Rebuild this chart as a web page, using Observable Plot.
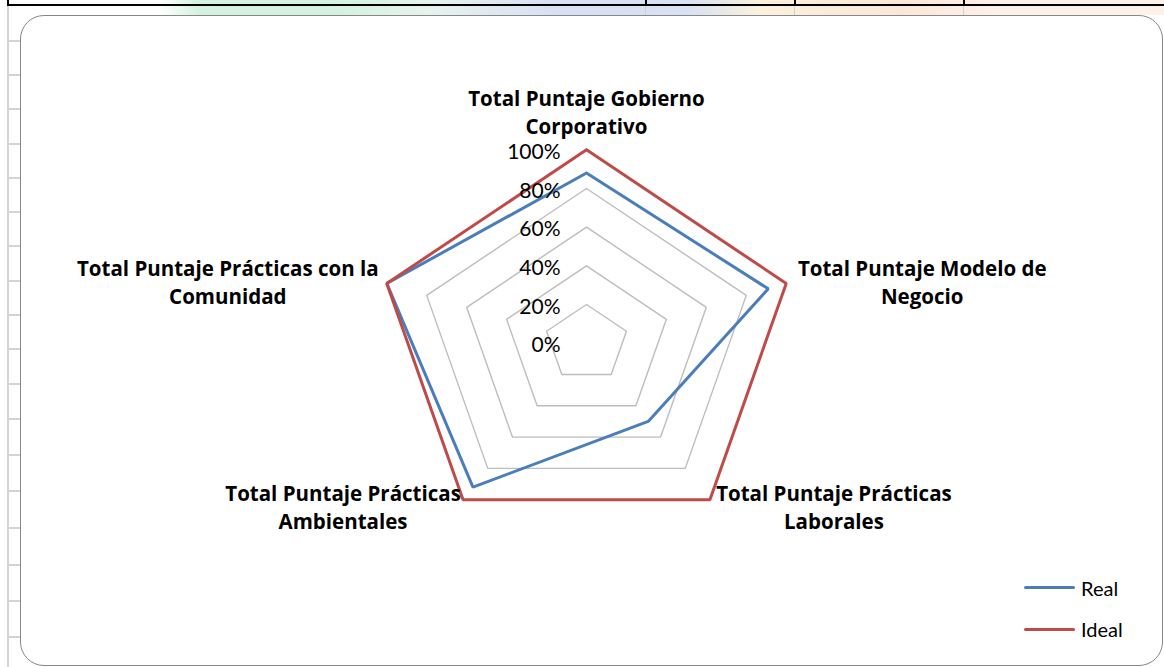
<!DOCTYPE html>
<html>
<head>
<meta charset="utf-8">
<script src="https://cdn.jsdelivr.net/npm/d3@7"></script>
<script src="https://cdn.jsdelivr.net/npm/@observablehq/plot@0.6"></script>
<style>
  html, body { margin: 0; padding: 0; background: #fff; }
  #stage { position: relative; width: 1164px; height: 667px; overflow: hidden; font-family: Lato, "Open Sans", sans-serif; }
  .abs { position: absolute; }
  #chart { position: absolute; left: 0; top: 0; }
  #chart svg { background: transparent !important; }
</style>
</head>
<body>
<div id="stage">
  <div class="abs" id="topstrip" style="left:0;top:0;width:1164px;height:15px;
    background: linear-gradient(90deg, #ffffff 0px, #ffffff 160px, #d3f2df 200px, #d3f2df 330px, #e6f3ee 430px, #d9dff4 560px, #d9e1f4 690px, #fbf1dc 760px, #fbe7d8 900px, #fdf1ea 1000px, #fdf1ea 1164px);"></div>
  <div class="abs" style="left:7px;top:4px;width:1157px;height:2px;background:#000;"></div>
  <div class="abs" style="left:7px;top:0;width:2px;height:6px;background:#000;"></div>
  <div class="abs" style="left:645px;top:0;width:2px;height:6px;background:#000;"></div>
  <div class="abs" style="left:794px;top:0;width:2px;height:6px;background:#000;"></div>
  <div class="abs" style="left:963px;top:0;width:2px;height:6px;background:#000;"></div>
  <div class="abs" style="left:645px;top:6px;width:1px;height:10px;background:#d0d0d0;"></div>
  <div class="abs" style="left:794px;top:6px;width:1px;height:10px;background:#d0d0d0;"></div>
  <div class="abs" style="left:963px;top:6px;width:1px;height:10px;background:#d0d0d0;"></div>
  <div class="abs" style="left:7px;top:6px;width:2px;height:661px;background:#d4d4d4;"></div>
  <div id="rowticks"></div>
  <div class="abs" style="left:20px;top:15px;width:1141px;height:649px;border:1.5px solid #878787;border-radius:24px;background:#fff;"></div>
  <div id="chart"></div>
  <div id="legend"></div>
</div>
<script>
// ---- data ----
const categories = [
  "Total Puntaje Gobierno\nCorporativo",
  "Total Puntaje Modelo de\nNegocio",
  "Total Puntaje Prácticas\nLaborales",
  "Total Puntaje Prácticas\nAmbientales",
  "Total Puntaje Prácticas con la\nComunidad"
];
const realValues  = [0.88, 0.91, 0.50, 0.92, 1.00];
const idealValues = [1.00, 1.00, 1.00, 1.00, 1.00];
const seriesNames = ["Real", "Ideal"];
const gridLevels  = [0.2, 0.4, 0.6, 0.8, 1.0];
const tickValues  = [0, 0.2, 0.4, 0.6, 0.8, 1.0];
const tickLabels  = ["0%", "20%", "40%", "60%", "80%", "100%"];

// ---- styles ----
const colors = {Real: "#4a7ebb", Ideal: "#be4b48"};
const labelDx = [0, 136, 124, -120, -159];
const labelDy = [-39, -2.5, 6.5, 6.5, -2.5];

// spreadsheet row ticks (decoration)
const rt = document.getElementById("rowticks");
[40, 74, 108, 143, 177, 211, 245, 280, 314, 348, 383, 418, 454, 490, 527, 564, 600, 636].forEach(y => {
  const d = document.createElement("div");
  d.className = "abs";
  d.style.cssText = `left:9px;top:${y}px;width:12px;height:1.5px;background:#d4d4d4;`;
  rt.appendChild(d);
});

const n = categories.length;
const angle = i => (i * 2 * Math.PI) / n;
const px = (r, i) => r * Math.sin(angle(i));
const py = (r, i) => r * Math.cos(angle(i));

function ring(values, key) {
  const pts = values.map((v, i) => ({x: px(v, i), y: py(v, i), z: key}));
  pts.push({...pts[0]});
  return pts;
}

const gridPts = gridLevels.flatMap(l => ring(categories.map(() => l), l));
const realPts = ring(realValues, "Real");
const idealPts = ring(idealValues, "Ideal");
const tickData = tickValues.map((v, i) => ({v, label: tickLabels[i]}));

const font = "Lato, 'Open Sans', sans-serif";
const boldFont = "'Open Sans', Lato, sans-serif";

const labelMarks = categories.map((c, i) =>
  Plot.text([{c, i}], {
    x: d => px(1, d.i), y: d => py(1, d.i), text: "c",
    dx: labelDx[i], dy: labelDy[i],
    textAnchor: "middle", lineAnchor: "middle", lineHeight: 1.36,
    fontSize: 20.5, fontWeight: "bold", fontFamily: boldFont, fill: "#000"
  })
);

const plot = Plot.plot({
  width: 1164, height: 667,
  margin: 0,
  style: {background: "transparent", overflow: "visible"},
  x: {domain: [-1, 1], range: [586 - 210, 586 + 210], axis: null},
  y: {domain: [-1, 1], range: [342.7 + 193.4, 342.7 - 193.4], axis: null},
  marks: [
    Plot.line(gridPts, {x: "x", y: "y", z: "z", stroke: "#bdbdbd", strokeWidth: 1.4, strokeLinejoin: "miter"}),
    Plot.line(realPts, {x: "x", y: "y", stroke: colors.Real, strokeWidth: 3, strokeLinejoin: "miter"}),
    Plot.line(idealPts, {x: "x", y: "y", stroke: colors.Ideal, strokeWidth: 3, strokeLinejoin: "miter"}),
    Plot.text(tickData, {x: () => 0, y: "v", text: "label", textAnchor: "end", dx: -26, dy: 2.5,
      fontSize: 21, fontFamily: font, fill: "#000"}),
    ...labelMarks
  ]
});
document.getElementById("chart").appendChild(plot);

// legend
const lg = document.getElementById("legend");
seriesNames.forEach((s, i) => {
  const y = 587.5 + i * 41.5;
  const line = document.createElement("div");
  line.className = "abs";
  line.style.cssText = `left:1024px;top:${y - 1.5}px;width:51px;height:3px;background:${colors[s]};border-radius:1.5px;`;
  lg.appendChild(line);
  const t = document.createElement("div");
  t.className = "abs";
  t.textContent = s;
  t.style.cssText = `left:1081px;top:${y - 13}px;font-size:20px;line-height:26px;color:#000;font-family:${font};`;
  lg.appendChild(t);
});
</script>
</body>
</html>
